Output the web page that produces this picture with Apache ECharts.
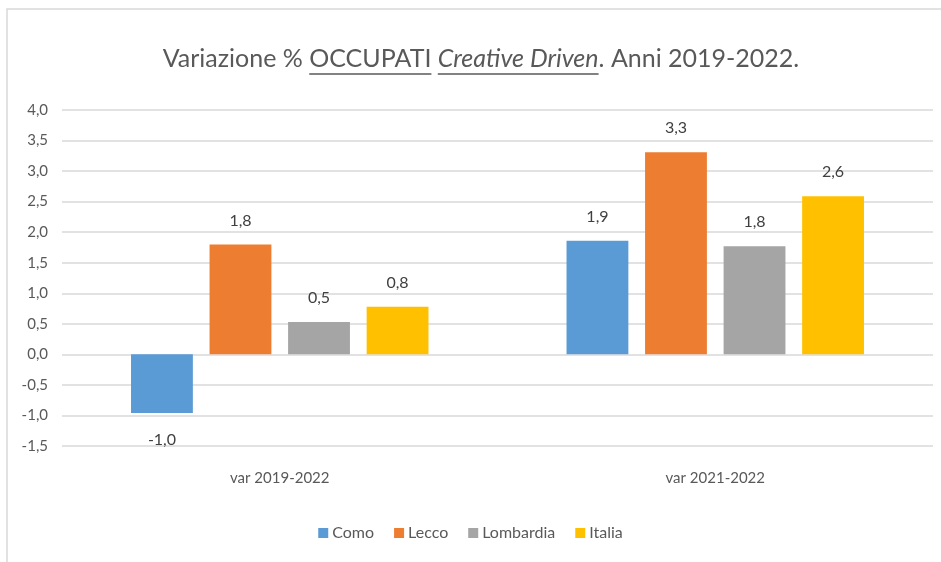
<!DOCTYPE html>
<html>
<head>
<meta charset="utf-8">
<script src="https://cdn.jsdelivr.net/npm/echarts@6/dist/echarts.min.js"></script>
<style>
  html, body { margin: 0; padding: 0; background: #fff; }
  #chart { width: 941px; height: 562px; }
</style>
</head>
<body>
<div id="chart"></div>
<script>
// dati
const categories = ['var 2019-2022', 'var 2021-2022'];
const como = [-0.96, 1.86];
const lecco = [1.80, 3.31];
const lombardia = [0.53, 1.77];
const italia = [0.78, 2.59];
const seriesNames = ['Como', 'Lecco', 'Lombardia', 'Italia'];
const colors = ['#5b9bd5', '#ed7d31', '#a5a5a5', '#ffc000'];

const FONT = 'Lato, "Noto Sans", sans-serif';
const fmt = v => v.toFixed(1).replace('.', ',');

// titolo: pezzi con sottolineato / corsivo
const titleParts = [
    {text: 'Variazione % ', italic: false, under: false},
    {text: 'OCCUPATI', italic: false, under: true},
    {text: ' ', italic: false, under: false},
    {text: 'Creative Driven', italic: true, under: true},
    {text: '. Anni 2019-2022.', italic: false, under: false}
];
const titleSize = 25;

function buildTitle() {
    let ctx = document.createElement('canvas').getContext('2d');
    let widths = titleParts.map(p => {
        ctx.font = (p.italic ? 'italic ' : '') + titleSize + 'px ' + FONT;
        return ctx.measureText(p.text).width;
    });
    let total = widths.reduce((a, b) => a + b, 0);
    let x = 481 - total / 2;
    let y = 59;
    let els = [];
    titleParts.forEach((p, i) => {
        els.push({
            type: 'text', x: x, y: y,
            style: {
                text: p.text, fill: '#595959',
                font: (p.italic ? 'italic ' : '') + titleSize + 'px ' + FONT,
                verticalAlign: 'middle', align: 'left'
            }
        });
        if (p.under) {
            els.push({
                type: 'line',
                shape: {x1: x, y1: y + 15, x2: x + widths[i], y2: y + 15},
                style: {stroke: '#595959', lineWidth: 1.4}
            });
        }
        x += widths[i];
    });
    return els;
}

function makeSeries(name, values, color) {
    return {
        name: name,
        type: 'bar',
        barWidth: '14.2%',
        barGap: '27%',
        itemStyle: {color: color},
        label: {
            show: true,
            position: 'top',
            distance: 16,
            color: '#404040',
            fontFamily: FONT,
            fontSize: 16,
            formatter: p => fmt(p.value)
        },
        data: values.map(v => v < 0 ? {value: v, label: {position: 'bottom', distance: 19}} : v)
    };
}

let chart = echarts.init(document.getElementById('chart'));
let option = {
    backgroundColor: '#fff',
    animation: false,
    textStyle: {fontFamily: FONT},
    graphic: [
        {
            type: 'rect',
            shape: {x: 7, y: 9, width: 960, height: 600},
            style: {fill: 'none', stroke: '#d9d9d9', lineWidth: 1.5},
            z: -1
        }
    ].concat(buildTitle()),
    legend: {
        data: seriesNames,
        bottom: 16,
        left: 'center',
        icon: 'rect',
        itemWidth: 10,
        itemHeight: 10,
        itemGap: 20,
        textStyle: {color: '#595959', fontSize: 16, fontFamily: FONT, padding: [0, 0, 0, -1]}
    },
    grid: {left: 62, right: 8, top: 110, bottom: 116},
    xAxis: {
        type: 'category',
        data: categories,
        axisLine: {show: false, onZero: false},
        axisTick: {show: false},
        axisLabel: {color: '#595959', fontSize: 15, fontFamily: FONT, margin: 25}
    },
    yAxis: {
        type: 'value',
        min: -1.5,
        max: 4,
        interval: 0.5,
        axisLine: {show: false},
        axisTick: {show: false},
        splitLine: {lineStyle: {color: '#d9d9d9', width: 1.5}},
        axisLabel: {
            color: '#595959', fontSize: 15, fontFamily: FONT, margin: 14,
            formatter: v => fmt(v)
        }
    },
    series: [
        makeSeries(seriesNames[0], como, colors[0]),
        makeSeries(seriesNames[1], lecco, colors[1]),
        makeSeries(seriesNames[2], lombardia, colors[2]),
        makeSeries(seriesNames[3], italia, colors[3])
    ]
};
chart.setOption(option);
</script>
</body>
</html>
